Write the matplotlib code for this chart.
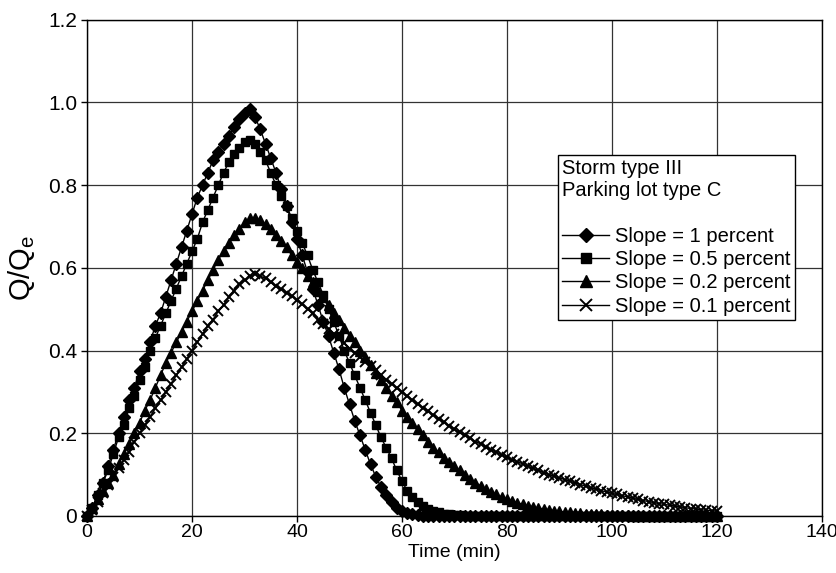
import matplotlib
matplotlib.use("Agg")
import matplotlib.pyplot as plt
from matplotlib import font_manager

time_min = list(range(0, 121))

slope_1 = [0.0, 0.02, 0.05, 0.08, 0.12, 0.16, 0.20, 0.24, 0.28, 0.31,
           0.35, 0.38, 0.42, 0.46, 0.49, 0.53, 0.57, 0.61, 0.65, 0.69,
           0.73, 0.77, 0.80, 0.83, 0.86, 0.88, 0.90, 0.92, 0.94, 0.96,
           0.975, 0.985, 0.965, 0.935, 0.90, 0.865, 0.83, 0.79, 0.75, 0.71,
           0.67, 0.63, 0.59, 0.55, 0.51, 0.47, 0.435, 0.395, 0.355, 0.31,
           0.27, 0.23, 0.195, 0.16, 0.125, 0.095, 0.07, 0.05, 0.033, 0.02,
           0.012, 0.007, 0.004, 0.002, 0.001] + [0.0] * 56

slope_05 = [0.0, 0.02, 0.05, 0.08, 0.11, 0.15, 0.19, 0.22, 0.26, 0.29,
            0.33, 0.36, 0.40, 0.43, 0.46, 0.49, 0.52, 0.55, 0.58, 0.61,
            0.64, 0.67, 0.71, 0.74, 0.77, 0.80, 0.83, 0.855, 0.875, 0.89,
            0.905, 0.91, 0.90, 0.88, 0.86, 0.83, 0.80, 0.775, 0.75, 0.72,
            0.69, 0.66, 0.63, 0.595, 0.565, 0.535, 0.50, 0.47, 0.435, 0.40,
            0.37, 0.34, 0.31, 0.28, 0.25, 0.22, 0.19, 0.165, 0.14, 0.11,
            0.085, 0.06, 0.045, 0.033, 0.024, 0.018, 0.013, 0.009, 0.006, 0.004,
            0.003, 0.002, 0.001] + [0.0] * 48

slope_02 = [0.0, 0.02, 0.04, 0.06, 0.08, 0.10, 0.125, 0.15, 0.175, 0.20,
            0.225, 0.255, 0.28, 0.31, 0.34, 0.37, 0.395, 0.42, 0.445, 0.47,
            0.495, 0.52, 0.545, 0.57, 0.595, 0.62, 0.64, 0.66, 0.68, 0.695,
            0.71, 0.72, 0.72, 0.715, 0.705, 0.695, 0.68, 0.665, 0.65, 0.63,
            0.615, 0.60, 0.58, 0.565, 0.545, 0.53, 0.51, 0.49, 0.475, 0.455,
            0.435, 0.42, 0.40, 0.385, 0.365, 0.345, 0.33, 0.31, 0.29, 0.275,
            0.255, 0.24, 0.225, 0.21, 0.195, 0.18, 0.165, 0.155, 0.14, 0.13,
            0.12, 0.11, 0.10, 0.09, 0.08, 0.073, 0.065, 0.058, 0.052, 0.046,
            0.041, 0.036, 0.032, 0.028, 0.025, 0.022, 0.019, 0.017, 0.015, 0.013,
            0.011, 0.010, 0.009, 0.008, 0.007, 0.006, 0.005, 0.004, 0.004, 0.003,
            0.003, 0.002, 0.002, 0.002, 0.001, 0.001, 0.001, 0.001, 0.001, 0.001,
            0.0, 0.0, 0.0, 0.0, 0.0, 0.0, 0.0, 0.0, 0.0, 0.0, 0.0]

slope_01 = [0.0, 0.015, 0.035, 0.055, 0.075, 0.095, 0.115, 0.135, 0.155, 0.18,
            0.20, 0.22, 0.24, 0.26, 0.28, 0.30, 0.32, 0.34, 0.36, 0.38,
            0.40, 0.42, 0.44, 0.46, 0.475, 0.495, 0.51, 0.53, 0.545, 0.56,
            0.57, 0.58, 0.585, 0.58, 0.575, 0.565, 0.555, 0.548, 0.54, 0.532,
            0.523, 0.512, 0.50, 0.49, 0.475, 0.465, 0.452, 0.44, 0.43, 0.418,
            0.405, 0.395, 0.385, 0.373, 0.362, 0.353, 0.342, 0.33, 0.32, 0.31,
            0.30, 0.29, 0.28, 0.27, 0.262, 0.253, 0.244, 0.235, 0.227, 0.218,
            0.21, 0.202, 0.195, 0.188, 0.18, 0.174, 0.167, 0.16, 0.154, 0.148,
            0.142, 0.136, 0.131, 0.126, 0.12, 0.115, 0.11, 0.105, 0.10, 0.096,
            0.092, 0.088, 0.084, 0.08, 0.076, 0.072, 0.068, 0.065, 0.061, 0.058,
            0.055, 0.052, 0.049, 0.046, 0.043, 0.04, 0.037, 0.035, 0.032, 0.030,
            0.028, 0.026, 0.024, 0.022, 0.020, 0.018, 0.017, 0.015, 0.014, 0.013,
            0.012]

series_labels = ["Slope = 1 percent", "Slope = 0.5 percent",
                 "Slope = 0.2 percent", "Slope = 0.1 percent"]
x_ticks = [0, 20, 40, 60, 80, 100, 120, 140]
y_ticks = [0, 0.2, 0.4, 0.6, 0.8, 1.0, 1.2]
y_tick_labels = ["0", "0.2", "0.4", "0.6", "0.8", "1.0", "1.2"]
legend_title = "Storm type III\nParking lot type C\n"

plt.rcParams['font.family'] = ['Liberation Sans', 'DejaVu Sans']

installed = {f.name for f in font_manager.fontManager.ttflist}
narrow = 'Liberation Sans Narrow' if 'Liberation Sans Narrow' in installed else 'Liberation Sans'
xsize = 16.5 if narrow != 'Liberation Sans' else 14

fig = plt.figure(figsize=(8.37, 5.73), dpi=100)
ax = fig.add_axes([0.104, 0.0995, 0.878, 0.866])

styles = [dict(marker='D', markersize=6),
          dict(marker='s', markersize=6),
          dict(marker='^', markersize=7),
          dict(marker='x', markersize=7, markeredgewidth=1.4)]

handles = []
for ys, lab, st in zip([slope_1, slope_05, slope_02, slope_01], series_labels, styles):
    h, = ax.plot(time_min, ys, color='black', linewidth=1.0,
                 markerfacecolor='black', markeredgecolor='black',
                 label=lab, clip_on=False, zorder=3, **st)
    handles.append(h)

ax.set_xlim(0, 140)
ax.set_ylim(0, 1.2)
ax.set_xticks(x_ticks)
ax.set_xticklabels([str(v) for v in x_ticks], family=narrow, fontsize=xsize)
ax.set_yticks(y_ticks)
ax.set_yticklabels(y_tick_labels, fontsize=15)
ax.grid(True, color='#333333', linewidth=0.9)
ax.set_axisbelow(True)
for sp in ax.spines.values():
    sp.set_color('black')
    sp.set_linewidth(1.0)
ax.tick_params(direction='out', length=4, width=1, colors='black')
ax.tick_params(axis='x', pad=2)
ax.tick_params(axis='y', pad=3)

ax.set_xlabel("Time (min)", family=narrow, fontsize=xsize, labelpad=2)
ax.set_ylabel(r"Q/Q$_\mathregular{e}$", fontsize=21, labelpad=8)

leg = ax.legend(handles=handles, loc='upper right', bbox_to_anchor=(0.963, 0.728),
                borderaxespad=0, title=legend_title, alignment='left', fontsize=14.5,
                title_fontsize=14.5, frameon=True, fancybox=False,
                edgecolor='black', framealpha=1, handlelength=2.3,
                handletextpad=0.3, borderpad=0.22, labelspacing=0.22,
                markerscale=1.2)
leg.get_frame().set_linewidth(1.0)

fig.savefig("out.png", dpi=100)
